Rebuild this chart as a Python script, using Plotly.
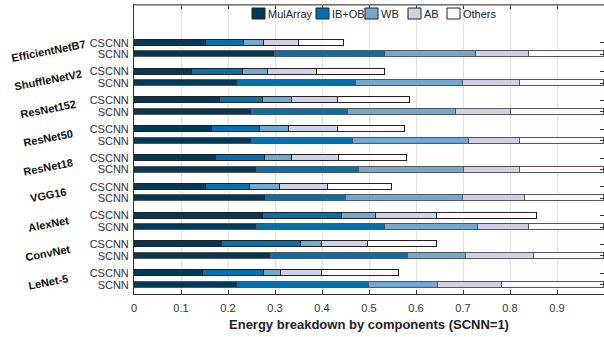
import plotly.graph_objects as go

# Models listed top to bottom
models = ["EfficientNetB7", "ShuffleNetV2", "ResNet152", "ResNet50", "ResNet18",
          "VGG16", "AlexNet", "ConvNet", "LeNet-5"]
schemes = ["CSCNN", "SCNN"]
components = ["MulArray", "IB+OB", "WB", "AB", "Others"]
colors = ["#023858", "#0570b0", "#74a9cf", "#d0d1e6", "#fff7fb"]

# Energy share of each component (SCNN total = 1), per model (top to bottom)
cscnn_mularray = [0.153, 0.123, 0.183, 0.167, 0.175, 0.154, 0.275, 0.188, 0.147]
cscnn_ibob     = [0.082, 0.109, 0.092, 0.101, 0.104, 0.093, 0.167, 0.167, 0.130]
cscnn_wb       = [0.042, 0.053, 0.061, 0.061, 0.057, 0.064, 0.073, 0.045, 0.035]
cscnn_ab       = [0.073, 0.104, 0.099, 0.104, 0.100, 0.102, 0.129, 0.097, 0.088]
cscnn_others   = [0.097, 0.145, 0.152, 0.144, 0.145, 0.136, 0.214, 0.148, 0.164]

scnn_mularray = [0.301, 0.221, 0.252, 0.252, 0.261, 0.281, 0.262, 0.292, 0.221]
scnn_ibob     = [0.233, 0.252, 0.203, 0.215, 0.218, 0.171, 0.272, 0.291, 0.280]
scnn_wb       = [0.194, 0.228, 0.230, 0.246, 0.224, 0.248, 0.198, 0.123, 0.146]
scnn_ab       = [0.113, 0.121, 0.117, 0.109, 0.119, 0.132, 0.109, 0.146, 0.135]
scnn_others   = [0.159, 0.178, 0.198, 0.178, 0.178, 0.168, 0.159, 0.148, 0.218]

x_ticks = [i / 10 for i in range(11)]
x_title = "Energy breakdown by components (SCNN=1)"

cscnn = [cscnn_mularray, cscnn_ibob, cscnn_wb, cscnn_ab, cscnn_others]
scnn = [scnn_mularray, scnn_ibob, scnn_wb, scnn_ab, scnn_others]

n = len(models)
# group index: bottom model = 0
gpos = [n - 1 - i for i in range(n)]
OFF = 0.2
ys, ylabels, linecols = [], [], []
for i in range(n):
    ys += [gpos[i] + OFF, gpos[i] - OFF]
    ylabels += schemes
    linecols += ["#222222", "#555555"]

FONT = "Liberation Sans, Arial, Helvetica, sans-serif"

fig = go.Figure()
for k, comp in enumerate(components):
    xs = []
    for i in range(n):
        xs += [cscnn[k][i], scnn[k][i]]
    fig.add_trace(go.Bar(
        x=xs, y=ys, orientation="h", name=comp, width=0.21,
        marker=dict(color=colors[k], line=dict(color=linecols, width=1)),
        showlegend=False, hoverinfo="x+name",
    ))

# layout helpers (pixel -> paper)
L, T, B, W, H = 134, 5, 43, 604, 337
PW, PH = W - L, H - T - B
def px(x):
    return (x - L) / PW
def py(y):
    return (H - B - y) / PH

shapes, annotations = [], []
# manual compact legend
leg_left = [252, 316, 365, 408, 447]
for k, comp in enumerate(components):
    x0 = leg_left[k]
    shapes.append(dict(type="rect", xref="paper", yref="paper",
                       x0=px(x0), x1=px(x0 + 13), y0=py(19), y1=py(8),
                       fillcolor=colors[k], line=dict(color="#222222", width=1)))
    annotations.append(dict(xref="paper", yref="paper", x=px(x0 + 14), y=py(13.8),
                            text=comp, showarrow=False, xanchor="left", yanchor="middle",
                            font=dict(family=FONT, size=11, color="#222222")))

# model name labels
for i, m in enumerate(models):
    annotations.append(dict(xref="paper", yref="y", x=px(48), y=gpos[i] - 0.1,
                            text="<b>" + m + "</b>", showarrow=False, textangle=-11,
                            xanchor="center", yanchor="middle",
                            font=dict(family=FONT, size=11, color="#111111")))

# lighter top frame line as in the reference
shapes.append(dict(type="line", xref="paper", yref="paper", x0=0, x1=1, y0=1, y1=1,
                   line=dict(color="#8a8a8a", width=1.5)))

fig.update_layout(
    width=W, height=H, barmode="stack",
    margin=dict(l=L, r=0, t=T, b=B, pad=0, autoexpand=False),
    plot_bgcolor="white", paper_bgcolor="white",
    font=dict(family=FONT, size=11, color="#333333"),
    shapes=shapes, annotations=annotations,
    bargap=0,
)
fig.update_xaxes(
    range=[0, 1], tickvals=x_ticks, ticktext=[f"{v:g}" for v in x_ticks],
    ticks="inside", ticklen=4, tickcolor="#333333", mirror="ticks",
    showline=True, linecolor="#333333", linewidth=1, automargin=False,
    showgrid=True, gridcolor="#e3e3e3", gridwidth=1, zeroline=False,
    tickfont=dict(family=FONT, size=11, color="#333333"),
    ticklabelstandoff=4,
    title=dict(text="<b>" + x_title + "</b>", standoff=6,
               font=dict(family=FONT, size=13, color="#222222")),
)
fig.update_yaxes(
    range=[-0.52, n + 0.51], tickvals=ys, ticktext=ylabels,
    ticks="inside", ticklen=4, tickcolor="#333333", mirror="ticks",
    showline=True, linecolor="#333333", linewidth=1, automargin=False,
    showgrid=False, zeroline=False,
    tickfont=dict(family=FONT, size=11, color="#333333"),
    ticklabelstandoff=2,
)

fig.write_html("out.html", config={"displayModeBar": False},
               post_script="document.body.style.margin='0px';document.body.style.overflow='hidden';")
